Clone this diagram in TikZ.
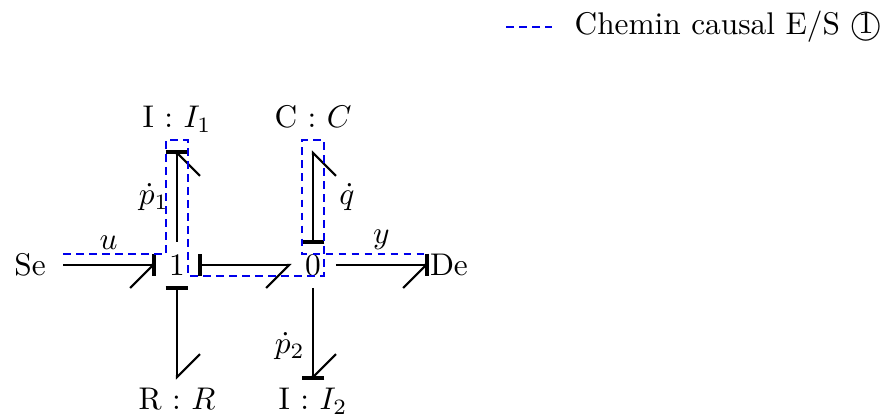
\documentclass[tikz,border=0pt]{standalone}
\usepackage{amsmath, amssymb}
\usetikzlibrary{arrows.meta, positioning}
\definecolor{pathblue}{RGB}{0, 0, 235}

\tikzset{
  junction/.style={minimum size=14.67pt, inner sep=0pt, outer sep=0pt},
  element/.style={inner sep=0pt, outer sep=0pt},
  lbl/.style={inner sep=2.3pt},
  barb/.tip={Straight Barb[harpoon, length=7.34pt, width=14.67pt, line width=0.65pt]},
  barbswap/.tip={Straight Barb[harpoon, swap, length=7.34pt, width=14.67pt, line width=0.65pt]},
  stroke/.tip={Bar[width=7.2pt, line width=1.2pt, sep=0pt]},
  bond/.style={line width=0.65pt},
  causal/.style={pathblue, line width=0.75pt, dash pattern=on 2.4pt off 1.75pt},
}

\begin{document}
\begin{tikzpicture}[x=0.319pt, y=-0.319pt]
  \useasboundingbox (0,0) rectangle (882,414);

  \node[junction] (one) at (177,265) {$1$};
  \node[junction] (zero) at (313,265) {$0$};
  \node[element, anchor=east, minimum width=21pt] (se) at (63,265) {Se};
  \node[element, anchor=west, minimum width=14pt] (de) at (427,265) {De};
  \node[element, anchor=south] (inertia1) at (177,152) {\raisebox{7.8pt}{I : $I_1$}};
  \node[element, anchor=south] (capa) at (313,152) {\raisebox{7.8pt}{C : $C$}};
  \node[element, anchor=north] (resist) at (177,378) {\rule{0pt}{10pt}R : $R$};
  \node[element, anchor=north] (inertia2) at (313,378) {\rule{0pt}{10pt}I : $I_2$};

  % bonds
  \draw[bond, -{barbswap[sep=-1.1pt] stroke}, shorten >=-0.6pt] (se.east) -- node[lbl, above=2.3pt] (ulbl) {$u$} (one.west);
  \draw[bond, -{barbswap[sep=-1.1pt] stroke}, shorten >=-0.6pt] (one.north) -- node[lbl, left] (p1lbl) {$\dot{p}_1$} (inertia1.south);
  \draw[bond, {stroke}-{barbswap}, shorten <=-0.6pt, shorten >=-0.5pt] (one.east) -- (zero.west);
  \draw[bond, {stroke}-{barbswap}, shorten <=-0.6pt, shorten >=-0.5pt] (zero.north) -- node[lbl, right=5.8pt] (qlbl) {$\dot{q}$} (capa.south);
  \draw[bond, -{barbswap[sep=-1.1pt] stroke}, shorten >=-0.6pt] (zero.east) -- node[lbl, above=2.3pt] (ylbl) {$y$} (de.west);
  \draw[bond, {stroke}-{barb}, shorten <=-0.6pt, shorten >=-0.5pt] (one.south) -- (resist.north);
  \draw[bond, -{barb[sep=-1.1pt] stroke}, shorten >=-0.6pt] (zero.south) -- node[lbl, left, pos=.65] (p2lbl) {$\dot{p}_2$} (inertia2.north);

  % causal path
  \coordinate (pathin) at (63,254);
  \coordinate (pathout) at (427,254);
  \draw[causal] (pathin) -- (166,254) -- (166,140) -- (188,140) -- (188,276)
    -- (324,276) -- (324,140) -- (302,140) -- (302,254) -- (pathout);

  % legend
  \coordinate (legendin) at (506,27);
  \node[anchor=west, inner sep=0pt] (legendtext) at (574,27) {Chemin causal E/S \textcircled{1}};
  \draw[causal] (legendin) -- (552,27);
\end{tikzpicture}
\end{document}
